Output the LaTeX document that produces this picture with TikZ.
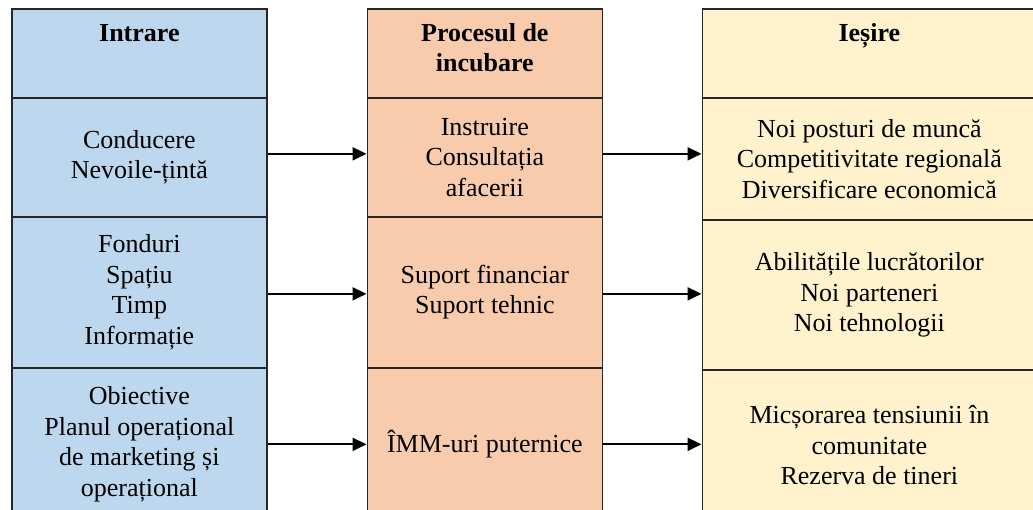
\documentclass[tikz,border=0pt]{standalone}
\usepackage{fontspec}
\setmainfont{Liberation Serif}
\usetikzlibrary{arrows.meta}
\definecolor{inblue}{HTML}{BDD7EE}
\definecolor{procor}{HTML}{F8CBAD}
\definecolor{outyel}{HTML}{FFF2CC}
\begin{document}
\begin{tikzpicture}[x=1pt,y=-1pt,
  cell/.style={draw=black!85, line width=1.7pt, inner sep=0pt, anchor=north west,
    align=center, font=\fontsize{26}{30.5}\selectfont},
  inc/.style={cell, fill=inblue, minimum width=255pt},
  prc/.style={cell, fill=procor, minimum width=235pt},
  outc/.style={cell, fill=outyel, minimum width=334pt},
  hdr/.style={anchor=base, align=center, inner sep=0pt,
    font=\fontsize{26}{30}\selectfont\bfseries},
  arr/.style={line width=2pt, -{Triangle[length=14pt,width=13pt]}}]
\useasboundingbox (0,0) rectangle (1033,510);
\clip (0,0) rectangle (1033,510);

% input column
\node[inc, minimum height=89pt]  (LH) at (11,8) {};
\node[inc, minimum height=119pt] (L1) at (11,97) {Conducere\\Nevoile-țintă};
\node[inc, minimum height=151pt] (L2) at (11,216) {Fonduri\\Spațiu\\Timp\\Informație};
\node[inc, minimum height=153pt] (L3) at (11,367) {Obiective\\Planul operațional\\de marketing și\\operațional};

% incubation column
\node[prc, minimum height=89pt]  (MH) at (366.5,8) {};
\node[prc, minimum height=119pt] (M1) at (366.5,97) {Instruire\\Consultația\\afacerii};
\node[prc, minimum height=151pt] (M2) at (366.5,216) {Suport financiar\\Suport tehnic};
\node[prc, minimum height=153pt] (M3) at (366.5,367) {ÎMM-uri puternice};

% output column
\node[outc, minimum height=89pt]  (RH) at (701.5,8) {};
\node[outc, minimum height=122pt] (R1) at (701.5,97) {Noi posturi de muncă\\Competitivitate regională\\Diversificare economică};
\node[outc, minimum height=150pt] (R2) at (701.5,219) {Abilitățile lucrătorilor\\Noi parteneri\\Noi tehnologii};
\node[outc, minimum height=151pt] (R3) at (701.5,369) {Micșorarea tensiunii în\\comunitate\\Rezerva de tineri};

% column headings (base = baseline of the last line)
\node[hdr] (LHt) at ([yshift=-34pt]LH.north) {Intrare};
\node[hdr] (MHt) at ([yshift=-64pt]MH.north) {Procesul de\\incubare};
\node[hdr] (RHt) at ([yshift=-34pt]RH.north) {Ieșire};

% flow arrows
\coordinate (a1) at ([yshift=3.5pt]L1.east);
\coordinate (a2) at ([yshift=-1.5pt]L2.east);
\coordinate (a3) at (L3.east);
\foreach \a in {a1,a2,a3}{
  \draw[arr] (\a) -- (\a -| M1.west);
  \draw[arr] (\a -| M1.east) -- (\a -| R1.west);
}
\end{tikzpicture}
\end{document}
